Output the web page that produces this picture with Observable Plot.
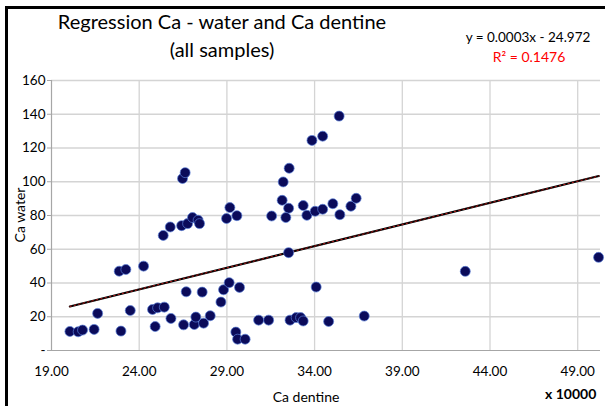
<!DOCTYPE html>
<html>
<head>
<meta charset="utf-8">
<script src="https://cdn.jsdelivr.net/npm/d3@7"></script>
<script src="https://cdn.jsdelivr.net/npm/@observablehq/plot@0.6"></script>
<style>
  html, body { margin: 0; padding: 0; background: #fff; }
  #wrap { position: relative; width: 605px; height: 406px; overflow: hidden; font-family: Lato, "Open Sans", sans-serif; }
  #frame { position: absolute; left: 5px; top: 6px; width: 610px; height: 420px; border-left: 3px solid #000; border-top: 3px solid #000; box-sizing: border-box; pointer-events: none; }
  .t { position: absolute; white-space: nowrap; color: #000; }
  #chart { position: absolute; left: 0; top: 0; }
</style>
</head>
<body>
<div id="wrap">
  <div id="chart"></div>
  <div id="frame"></div>
  <div class="t" id="title1" style="left:222px; top:9px; transform:translateX(-50%); font-size:20px;">Regression Ca - water and Ca dentine</div>
  <div class="t" id="title2" style="left:222px; top:37px; transform:translateX(-50%); font-size:20px;">(all samples)</div>
  <div class="t" id="eq" style="left:528px; top:29px; transform:translateX(-50%); font-size:13.5px;">y = 0.0003x - 24.972</div>
  <div class="t" id="r2" style="left:529px; top:48px; transform:translateX(-50%); font-size:14px; color:#ff0000;">R² = 0.1476</div>
  <div class="t" id="ylab" style="left:19px; top:215px; transform:translate(-50%,-50%) rotate(-90deg); font-size:14px;">Ca water</div>
  <div class="t" id="xlab" style="left:306px; top:388px; transform:translateX(-50%); font-size:14px;">Ca dentine</div>
  <div class="t" id="unit" style="left:545px; top:385px; font-size:14px; font-weight:bold;">x 10000</div>
</div>
<script>
// Ca dentine (x 10000) and Ca water values
const caDentine = [
  20.05, 20.52, 20.77, 21.43, 21.63, 22.96, 22.86, 23.24, 24.25, 23.49,
  24.76, 25.05, 25.43, 24.91, 25.81, 26.68, 27.59, 26.53, 27.14, 27.23,
  27.67, 28.05, 28.66, 28.81, 29.13, 29.72, 29.51, 29.61, 30.04, 30.81,
  31.38, 26.47, 26.62, 25.37, 25.77, 26.42, 26.76, 27.04, 27.36, 27.44,
  28.98, 29.17, 29.57, 31.55, 35.40, 33.85, 34.46, 32.55, 32.21, 32.15,
  32.52, 33.35, 32.36, 33.56, 34.03, 34.46, 35.04, 35.44, 36.07, 36.37,
  32.60, 32.95, 33.20, 33.35, 34.80, 36.83, 34.09, 32.52, 42.59, 50.19
];
const caWater = [
  11.3, 11.1, 12.1, 12.5, 22.0, 11.5, 47.0, 48.0, 50.0, 23.7,
  24.3, 25.3, 25.7, 14.2, 19.0, 34.8, 34.6, 15.2, 15.4, 19.8,
  16.2, 20.6, 28.7, 36.0, 40.2, 37.4, 10.9, 6.7, 6.7, 18.0,
  18.0, 101.9, 105.4, 68.2, 73.2, 74.0, 75.2, 78.8, 77.2, 75.2,
  78.2, 84.7, 79.9, 79.7, 138.9, 124.5, 127.0, 108.0, 99.9, 89.0,
  84.3, 85.9, 78.8, 80.1, 82.5, 83.7, 87.0, 80.5, 85.5, 90.2,
  18.0, 19.5, 19.5, 17.5, 17.2, 20.4, 37.6, 58.0, 46.9, 55.2
];
// Linear trendline end points (as drawn in the picture)
const trendX = [20.05, 50.2];
const trendY = [26.1, 103.4];
// Axis ticks
const xTicks = [19, 24, 29, 34, 39, 44, 49];
const xTickLabels = ["19.00", "24.00", "29.00", "34.00", "39.00", "44.00", "49.00"];
const yTicks = [0, 20, 40, 60, 80, 100, 120, 140, 160];
const yTickLabels = ["-", "20", "40", "60", "80", "100", "120", "140", "160"];

const points = caDentine.map((x, i) => ({x, y: caWater[i]}));
const trend = trendX.map((x, i) => ({x, y: trendY[i]}));

const chart = Plot.plot({
  width: 605,
  height: 406,
  marginTop: 80,
  marginBottom: 56,
  marginLeft: 51,
  marginRight: 5,
  style: {fontFamily: "Lato, 'Open Sans', sans-serif", fontSize: "13px", color: "#000", background: "transparent"},
  x: {domain: [19, 50.3]},
  y: {domain: [0, 160]},
  marks: [
    Plot.gridY(yTicks.filter(d => d > 0), {stroke: "#d4d4d4", strokeOpacity: 1, strokeWidth: 1.3}),
    Plot.gridX(xTicks.filter(d => d > 19), {stroke: "#d4d4d4", strokeOpacity: 1, strokeWidth: 1.3}),
    Plot.ruleY([0], {stroke: "#a6a6a6", strokeWidth: 1.2}),
    Plot.ruleX([19], {stroke: "#a6a6a6", strokeWidth: 1.2}),
    Plot.axisY(yTicks, {tickSize: 4, tickPadding: 2, stroke: "#a6a6a6", fill: "#000", fontSize: 13.5,
      tickFormat: d => yTickLabels[yTicks.indexOf(d)], label: null}),
    Plot.axisX(xTicks, {tickSize: 0, tickPadding: 16, fill: "#000", fontSize: 13.5,
      tickFormat: d => xTickLabels[xTicks.indexOf(d)], label: null}),
    Plot.line(trend, {x: "x", y: "y", stroke: "#000", strokeWidth: 2.2}),
    Plot.line(trend, {x: "x", y: "y", stroke: "#e02020", strokeWidth: 0.8, strokeDasharray: "1.5,3"}),
    Plot.dot(points, {x: "x", y: "y", r: 5, fill: "#0b0b5a", stroke: "#5a7fd8", strokeWidth: 0.7})
  ]
});
document.getElementById("chart").appendChild(chart);
</script>
</body>
</html>
